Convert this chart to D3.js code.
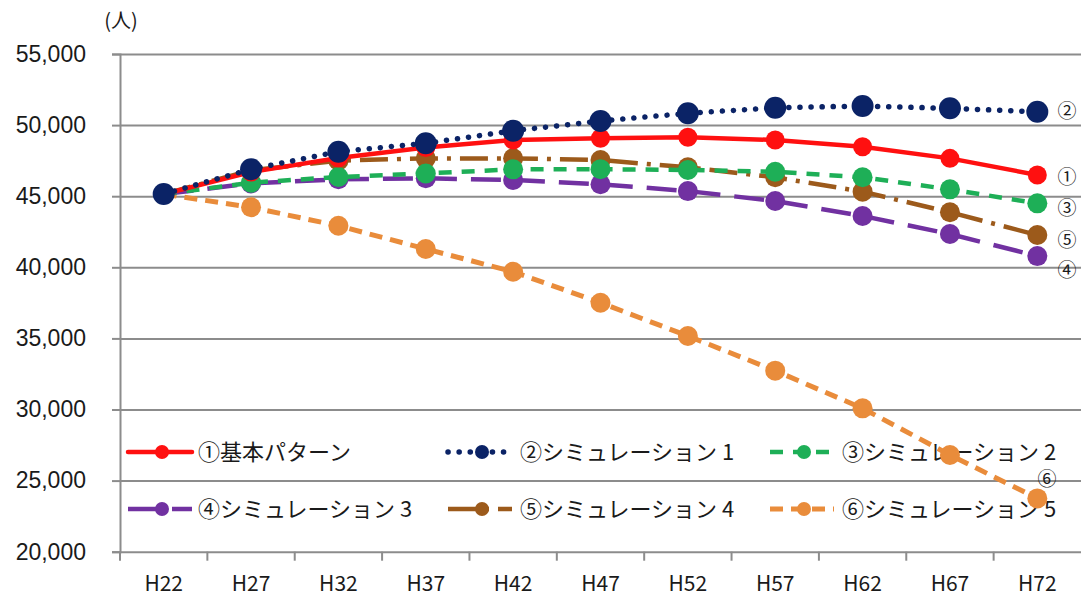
<!DOCTYPE html>
<html>
<head>
<meta charset="utf-8">
<script src="https://cdn.jsdelivr.net/npm/d3@7"></script>
<style>
  html, body { margin: 0; padding: 0; background: #fff; }
  svg { display: block; font-family: "Noto Sans CJK JP", "Noto Sans", sans-serif; }
</style>
</head>
<body>
<svg id="chart"></svg>
<script>
// Data
const categories = ["H22", "H27", "H32", "H37", "H42", "H47", "H52", "H57", "H62", "H67", "H72"];
const yTicks = [20000, 25000, 30000, 35000, 40000, 45000, 50000, 55000];

const kihon = [45150, 46700, 47680, 48420, 48950, 49070, 49140, 48950, 48480, 47660, 46490];
const sim1  = [45150, 46900, 48130, 48720, 49600, 50290, 50830, 51220, 51340, 51180, 50940];
const sim2  = [45150, 45950, 46350, 46600, 46890, 46900, 46840, 46720, 46330, 45480, 44500];
const sim3  = [45150, 45900, 46190, 46260, 46140, 45840, 45360, 44660, 43610, 42340, 40790];
const sim4  = [45150, 46820, 47500, 47660, 47660, 47540, 47030, 46330, 45320, 43870, 42270];
const sim5  = [45150, 44220, 42920, 41290, 39690, 37510, 35170, 32730, 30080, 26800, 23750];

const seriesNames = ["①基本パターン", "②シミュレーション 1", "③シミュレーション 2",
                     "④シミュレーション 3", "⑤シミュレーション 4", "⑥シミュレーション 5"];
const endLabels = ["①", "②", "③", "④", "⑤", "⑥"];

// Configurations
const width = 1081, height = 599;
const marginLeft = 120, marginRight = 0, marginTop = 54, marginBottom = 47;

// series styles (drawn from back to front)
const series = [
  {name: seriesNames[5], end: endLabels[5], values: sim5,  color: "#e98c3b", dash: "13 8",        cap: "butt",  width: 5,   r: 10},
  {name: seriesNames[3], end: endLabels[3], values: sim3,  color: "#7131a1", dash: "30 14",       cap: "butt",  width: 4.5, r: 10},
  {name: seriesNames[4], end: endLabels[4], values: sim4,  color: "#9c5a1b", dash: "28 9 4 9",    cap: "butt",  width: 4.5, r: 10},
  {name: seriesNames[2], end: endLabels[2], values: sim2,  color: "#1eaf57", dash: "13 10",       cap: "butt",  width: 4.5, r: 10},
  {name: seriesNames[0], end: endLabels[0], values: kihon, color: "#ff1010", dash: null,          cap: "round", width: 4.5, r: 9.5},
  {name: seriesNames[1], end: endLabels[1], values: sim1,  color: "#0b2366", dash: "0.1 11",      cap: "round", width: 5.5, r: 11}
];

const svg = d3.select("#chart")
  .attr("width", width)
  .attr("height", height)
  .attr("viewBox", [0, 0, width, height]);

const xBand = d3.scaleBand(categories, [marginLeft, width - marginRight]);
const x = c => xBand(c) + xBand.bandwidth() / 2;
const y = d3.scaleLinear([20000, 55000], [height - marginBottom - 0.3, marginTop]);

// grid + y axis
svg.append("g")
  .attr("transform", `translate(${marginLeft},0)`)
  .call(d3.axisLeft(y).tickValues(yTicks).tickSize(8).tickFormat(d3.format(",")))
  .call(g => g.select(".domain").attr("stroke", "#8c8c8c").attr("stroke-width", 2))
  .call(g => g.selectAll(".tick line").attr("stroke", "#8c8c8c").attr("stroke-width", 2))
  .call(g => g.selectAll(".tick line").clone()
      .attr("x1", 0)
      .attr("x2", width - marginLeft - marginRight))
  .call(g => g.selectAll(".tick text")
      .attr("x", -34)
      .attr("fill", "#1a1a1a")
      .attr("font-size", 23));

// unit label
svg.append("text")
  .attr("x", 121)
  .attr("y", 28)
  .attr("text-anchor", "middle")
  .attr("font-size", 20)
  .attr("fill", "#1a1a1a")
  .text("(人)");

// x axis: tick marks on band edges, labels at centres
const xAxisG = svg.append("g")
  .attr("transform", `translate(0,${y(20000)})`);
xAxisG.selectAll("line")
  .data(categories)
  .join("line")
  .attr("x1", d => xBand(d)).attr("x2", d => xBand(d))
  .attr("y1", 0).attr("y2", 9)
  .attr("stroke", "#8c8c8c").attr("stroke-width", 2);
xAxisG.selectAll("text")
  .data(categories)
  .join("text")
  .attr("x", d => x(d))
  .attr("y", 39)
  .attr("text-anchor", "middle")
  .attr("font-size", 21)
  .attr("fill", "#1a1a1a")
  .text(d => d);

// legend (under the lines, as in the reference)
const legendOrder = [4, 5, 3, 1, 2, 0]; // ① ② ③ / ④ ⑤ ⑥ as indices into series
const legendCols = [128, 448, 770];
const legendRows = [452, 509];
const legend = svg.append("g");
legendOrder.forEach((si, i) => {
  const s = series[si];
  const lx = legendCols[i % 3], ly = legendRows[Math.floor(i / 3)];
  const g = legend.append("g").attr("transform", `translate(${lx},${ly})`);
  g.append("line")
    .attr("x1", 0).attr("x2", 64)
    .attr("stroke", s.color)
    .attr("stroke-width", s.width)
    .attr("stroke-linecap", s.cap)
    .attr("stroke-dasharray", s.dash);
  g.append("circle")
    .attr("cx", 34).attr("r", 7)
    .attr("fill", s.color);
  g.append("text")
    .attr("x", i % 3 === 0 ? 70 : 72)
    .attr("dy", "0.35em")
    .attr("font-size", 22)
    .attr("fill", "#1a1a1a")
    .text(s.name);
});

// lines and markers
const line = d3.line()
  .x((d, i) => x(categories[i]))
  .y(d => y(d));

series.forEach(s => {
  svg.append("path")
    .attr("fill", "none")
    .attr("stroke", s.color)
    .attr("stroke-width", s.width)
    .attr("stroke-linecap", s.cap)
    .attr("stroke-dasharray", s.dash)
    .attr("d", line(s.values));
  svg.append("g")
    .selectAll("circle")
    .data(s.values)
    .join("circle")
    .attr("cx", (d, i) => x(categories[i]))
    .attr("cy", d => y(d))
    .attr("r", s.r)
    .attr("fill", s.color);
});

// end labels
const endOffsets = {"①": [0, 2], "②": [0, 0], "③": [0, 5], "④": [0, 14], "⑤": [0, 5], "⑥": [-20, -19]};
series.forEach(s => {
  const last = s.values[s.values.length - 1];
  const off = endOffsets[s.end];
  svg.append("text")
    .attr("x", 1067 + off[0])
    .attr("y", y(last) + off[1])
    .attr("dy", "0.35em")
    .attr("text-anchor", "middle")
    .attr("font-size", 19)
    .attr("fill", "#1a1a1a")
    .text(s.end);
});
</script>
</body>
</html>
